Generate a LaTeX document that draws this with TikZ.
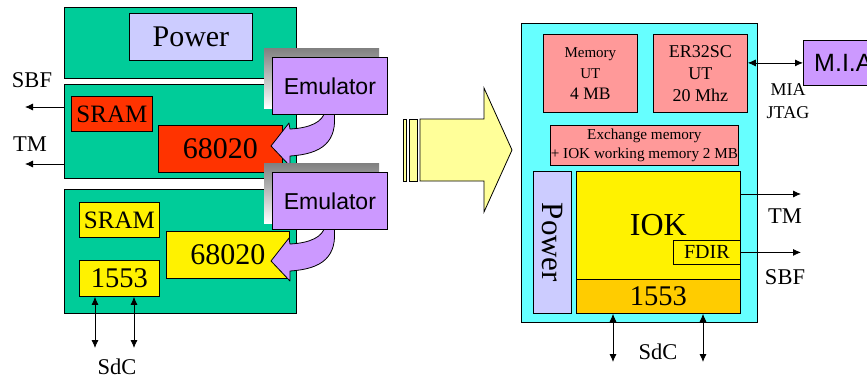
\documentclass[tikz,border=0pt]{standalone}
\usepackage{fontspec}
\setmainfont{Liberation Serif}
\setsansfont{Liberation Sans}
\usetikzlibrary{arrows.meta}
\definecolor{board}{HTML}{00CC99}
\definecolor{pwr}{HTML}{CCCCFF}
\definecolor{chipred}{HTML}{FF3300}
\definecolor{emu}{HTML}{CC99FF}
\definecolor{shade}{HTML}{808080}
\definecolor{cyanbg}{HTML}{66FFFF}
\definecolor{memred}{HTML}{FF9999}
\definecolor{busorange}{HTML}{FFCC00}
\definecolor{bigyellow}{HTML}{FFFF99}
\newcommand{\fsz}[2]{\fontsize{#1}{#2}\selectfont}
\tikzset{
  box/.style={draw, line width=0.8pt, anchor=north west, inner sep=0pt, align=center},
  lbl/.style={inner sep=0pt, font=\fsz{22.5}{25}},
  io/.style={line width=0.8pt, -{Latex[length=8pt,width=7pt]}},
  bidir/.style={line width=0.8pt, {Latex[length=8pt,width=7pt]}-{Latex[length=8pt,width=7pt]}},
  emuarrow/.style={draw, fill=emu, line width=0.8pt, line join=round},
  bigarrow/.style={draw, fill=bigyellow, line width=0.8pt},
}
\begin{document}
\begin{tikzpicture}[x=1pt,y=-1pt]
\useasboundingbox (0,0) rectangle (867,378);
\clip (0,0) rectangle (867,378);

\node[box, fill=board, minimum width=232, minimum height=71] (brd1) at (64,7) {};
\node[box, fill=pwr, minimum width=123, minimum height=47, font=\fsz{30}{32}] (pwr1) at (129,13) {Power};

\node[box, fill=board, minimum width=232, minimum height=94] (brd2) at (64,84) {};
\node[box, fill=chipred, minimum width=81, minimum height=35, font=\fsz{25}{27}] (sram2) at (71,96) {SRAM};
\node[box, fill=chipred, minimum width=124, minimum height=47, font=\fsz{30}{32}] (cpu2) at (158,125) {68020};

\node[box, fill=board, minimum width=232, minimum height=124] (brd3) at (64,189) {};
\node[box, fill=yellow, minimum width=80, minimum height=35, font=\fsz{25}{27}] (sram3) at (79,202) {SRAM};
\node[box, fill=yellow, minimum width=80, minimum height=36, font=\fsz{28.5}{30}] (bus3) at (79,260) {1553};
\node[box, fill=yellow, minimum width=123, minimum height=47, font=\fsz{30}{32}] (cpu3) at (166,231) {68020};

\foreach \t/\n [evaluate=\t as \b using \t+57] in {57/1,172/2} {
  \fill[shade] (264,\t-9) rectangle (379,\t+51);
  \filldraw[emuarrow] (325,\b-3) .. controls (323,\b+8) and (310,\b+14) .. (290,\b+15)
    -- (289,\b+9) -- (271,\b+32) -- (290,\b+52) -- (290,\b+42)
    .. controls (322,\b+40) and (338,\b+28) .. (334,\b-3) -- cycle;
  \node[box, fill=emu, minimum width=115, minimum height=57, font=\sffamily\fsz{23}{25}] (emu\n) at (272,\t) {Emulator};
}

\coordinate (sbfL) at (25,107);
\coordinate (tmL) at (25,164);
\draw[io] (brd2.west |- sbfL) -- (sbfL);
\draw[io] (brd2.west |- tmL) -- (tmL);
\node[lbl] (sbf1) at (32,80) {SBF};
\node[lbl] (tm1) at (30,144) {TM};

\coordinate (sdcA) at (95,348);
\coordinate (sdcB) at (134,348);
\draw[bidir] (bus3.south -| sdcA) -- (sdcA);
\draw[bidir] (bus3.south -| sdcB) -- (sdcB);
\node[lbl] (sdc1) at (117,367) {SdC};

\draw[bigarrow] (403,119) rectangle (406,181);
\draw[bigarrow] (409,119) rectangle (417,181);
\draw[bigarrow] (420,119) -- (484,119) -- (484,88) -- (512,150) -- (484,212) -- (484,181) -- (420,181) -- cycle;

\node[box, fill=cyanbg, minimum width=236, minimum height=299] (ioboard) at (521,23) {};
\node[box, fill=memred, minimum width=94, minimum height=78, font=\fsz{15}{21}] (memut) at (543,34) {Memory\\UT\\{\fsz{17.5}{21}4 MB}};
\node[box, fill=memred, minimum width=94, minimum height=78, font=\fsz{18}{22}] (cpuut) at (653,34) {ER32SC\\UT\\20 Mhz};
\node[box, fill=emu, minimum width=80, minimum height=45, font=\sffamily\fsz{25}{27}] (mia) at (803,40) {M.I.A};
\draw[bidir] (cpuut.east |- mia.west) -- (mia.west);
\node[lbl, font=\fsz{18}{23}, align=center] (jtag) at (788,101) {MIA\\JTAG};
\node[box, fill=memred, minimum width=188, minimum height=40, font=\fsz{15.2}{18.5}] (xmem) at (550,125) {Exchange memory\\+ IOK working memory 2 MB};

\node[box, fill=pwr, minimum width=38, minimum height=142] (pwr2) at (533,171) {};
\node[font=\fsz{31}{33}, rotate=-90, inner sep=0pt] (pwr2txt) at (pwr2.center) {Power};
\node[box, fill=yellow, minimum width=164, minimum height=108, font=\fsz{32}{34}] (iok) at (576,171) {IOK};
\node[box, fill=yellow, minimum width=67, minimum height=24, font=\fsz{20}{22}] (fdir) at (673,240) {FDIR};
\node[box, fill=busorange, minimum width=164, minimum height=34, font=\fsz{28.5}{30}] (busR) at (576,279) {1553};

\coordinate (tmR) at (801,194);
\coordinate (sbfR) at (801,252);
\draw[io] (iok.east |- tmR) -- (tmR);
\draw[io] (fdir.east) -- (sbfR |- fdir.east);
\node[lbl] (tm2) at (785,216) {TM};
\node[lbl] (sbf2) at (785,277) {SBF};

\coordinate (sdcC) at (613,362);
\coordinate (sdcD) at (703,362);
\draw[bidir] (busR.south -| sdcC) -- (sdcC);
\draw[bidir] (busR.south -| sdcD) -- (sdcD);
\node[lbl] (sdc2) at (658,352) {SdC};
\end{tikzpicture}
\end{document}
